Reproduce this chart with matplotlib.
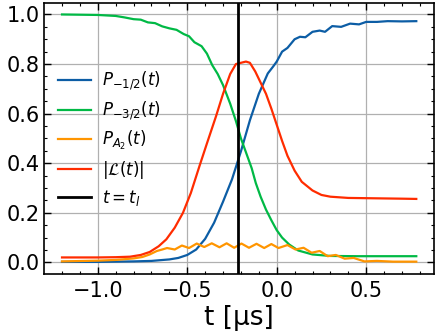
import matplotlib
matplotlib.use("Agg")
import matplotlib.pyplot as plt
from matplotlib.ticker import AutoMinorLocator

# ---- data ----
t_blue = [-1.2, -1.0, -0.9, -0.8, -0.7, -0.6, -0.55, -0.5, -0.45, -0.4, -0.35, -0.3, -0.25, -0.2,
          -0.15, -0.1, -0.05, -0.02, 0.0, 0.03, 0.06, 0.1, 0.13, 0.16, 0.2, 0.24, 0.27, 0.31, 0.36,
          0.41, 0.46, 0.5, 0.56, 0.62, 0.7, 0.78]
p_m12 = [0.002, 0.002, 0.003, 0.004, 0.006, 0.012, 0.018, 0.03, 0.052, 0.095, 0.16, 0.245, 0.335, 0.448,
         0.573, 0.68, 0.762, 0.79, 0.81, 0.85, 0.865, 0.90, 0.91, 0.908, 0.93, 0.935, 0.93, 0.953, 0.95,
         0.963, 0.96, 0.97, 0.97, 0.973, 0.972, 0.973]

t_green = [-1.2, -1.0, -0.9, -0.85, -0.8, -0.76, -0.72, -0.68, -0.64, -0.6, -0.56, -0.52, -0.49, -0.46,
           -0.42, -0.39, -0.36, -0.33, -0.3, -0.26, -0.228, -0.2, -0.17, -0.14, -0.117, -0.09, -0.06,
           -0.03, 0.0, 0.03, 0.07, 0.12, 0.2, 0.3, 0.45, 0.6, 0.78]
p_m32 = [1.0, 0.998, 0.994, 0.988, 0.981, 0.979, 0.968, 0.965, 0.952, 0.944, 0.938, 0.921, 0.912, 0.888,
         0.872, 0.842, 0.795, 0.76, 0.715, 0.64, 0.57, 0.50, 0.44, 0.38, 0.32, 0.265, 0.213,
         0.17, 0.13, 0.10, 0.072, 0.048, 0.032, 0.026, 0.025, 0.025, 0.025]

t_orange = [-1.2, -1.0, -0.9, -0.8, -0.75, -0.71, -0.67, -0.64, -0.613, -0.57, -0.53, -0.49, -0.447,
            -0.405, -0.363, -0.32, -0.28, -0.238, -0.197, -0.155, -0.113, -0.07, -0.03, 0.01, 0.06,
            0.105, 0.15, 0.195, 0.24, 0.285, 0.33, 0.38, 0.43, 0.49, 0.56, 0.65, 0.78]
p_a2 = [0.004, 0.007, 0.01, 0.016, 0.022, 0.032, 0.046, 0.052, 0.058, 0.052, 0.068, 0.058, 0.076,
        0.062, 0.077, 0.061, 0.077, 0.059, 0.076, 0.059, 0.075, 0.058, 0.074, 0.058, 0.070,
        0.052, 0.059, 0.039, 0.046, 0.025, 0.030, 0.015, 0.018, 0.004, 0.006, 0.003, 0.003]

t_red = [-1.2, -1.0, -0.9, -0.82, -0.76, -0.71, -0.66, -0.617, -0.57, -0.524, -0.48, -0.432, -0.39,
         -0.339, -0.3, -0.26, -0.228, -0.2, -0.172, -0.15, -0.12, -0.09, -0.06, -0.03, 0.0, 0.03,
         0.06, 0.1, 0.14, 0.2, 0.25, 0.3, 0.4, 0.5, 0.6, 0.7, 0.78]
loschmidt = [0.02, 0.02, 0.021, 0.023, 0.03, 0.042, 0.065, 0.093, 0.14, 0.20, 0.28, 0.388, 0.48,
             0.59, 0.68, 0.76, 0.80, 0.805, 0.81, 0.805, 0.77, 0.725, 0.68, 0.62, 0.555, 0.49,
             0.43, 0.37, 0.325, 0.29, 0.272, 0.265, 0.26, 0.259, 0.258, 0.257, 0.256]

t_l = -0.217

labels = [r'$P_{-1/2}(t)$', r'$P_{-3/2}(t)$', r'$P_{A_2}(t)$', r'$|\mathcal{L}(t)|$', r'$t=t_l$']
colors = ['#0C5DA5', '#00B945', '#FF9500', '#FF2C00', 'black']

fig = plt.figure(figsize=(4.37, 3.35), dpi=100)
ax = fig.add_axes([44.3 / 437, (335 - 274.3) / 335, (434 - 44.3) / 437, (274.3 - 3.3) / 335])

ax.plot(t_blue, p_m12, color=colors[0], lw=1.6, label=labels[0])
ax.plot(t_green, p_m32, color=colors[1], lw=1.6, label=labels[1])
ax.plot(t_orange, p_a2, color=colors[2], lw=1.6, label=labels[2])
ax.plot(t_red, loschmidt, color=colors[3], lw=1.6, label=labels[3])
ax.axvline(t_l, color=colors[4], lw=2.0, label=labels[4])

ax.margins(x=0.05, y=0.05)
ax.set_ylim(-0.048, 1.045)
ax.set_xticks([-1.0, -0.5, 0.0, 0.5])
ax.set_yticks([0.0, 0.2, 0.4, 0.6, 0.8, 1.0])
ax.xaxis.set_minor_locator(AutoMinorLocator())
ax.yaxis.set_minor_locator(AutoMinorLocator())
ax.grid(True, which='major', color='#b0b0b0', lw=0.9)
ax.set_axisbelow(True)
ax.tick_params(which='both', direction='in', top=True, right=True, labelsize=15)
ax.tick_params(which='major', length=5, width=1.0)
ax.tick_params(which='minor', length=2.5, width=0.8)
ax.tick_params(axis='x', which='major', pad=5)
for s in ax.spines.values():
    s.set_linewidth(1.2)

ax.set_xlabel(r't [μs]', fontsize=19, labelpad=3)

ax.legend(loc='center left', frameon=False, fontsize=12, handlelength=2.0,
          labelspacing=0.42, handletextpad=0.65, borderaxespad=0.4)

fig.savefig('out.png', dpi=100)
